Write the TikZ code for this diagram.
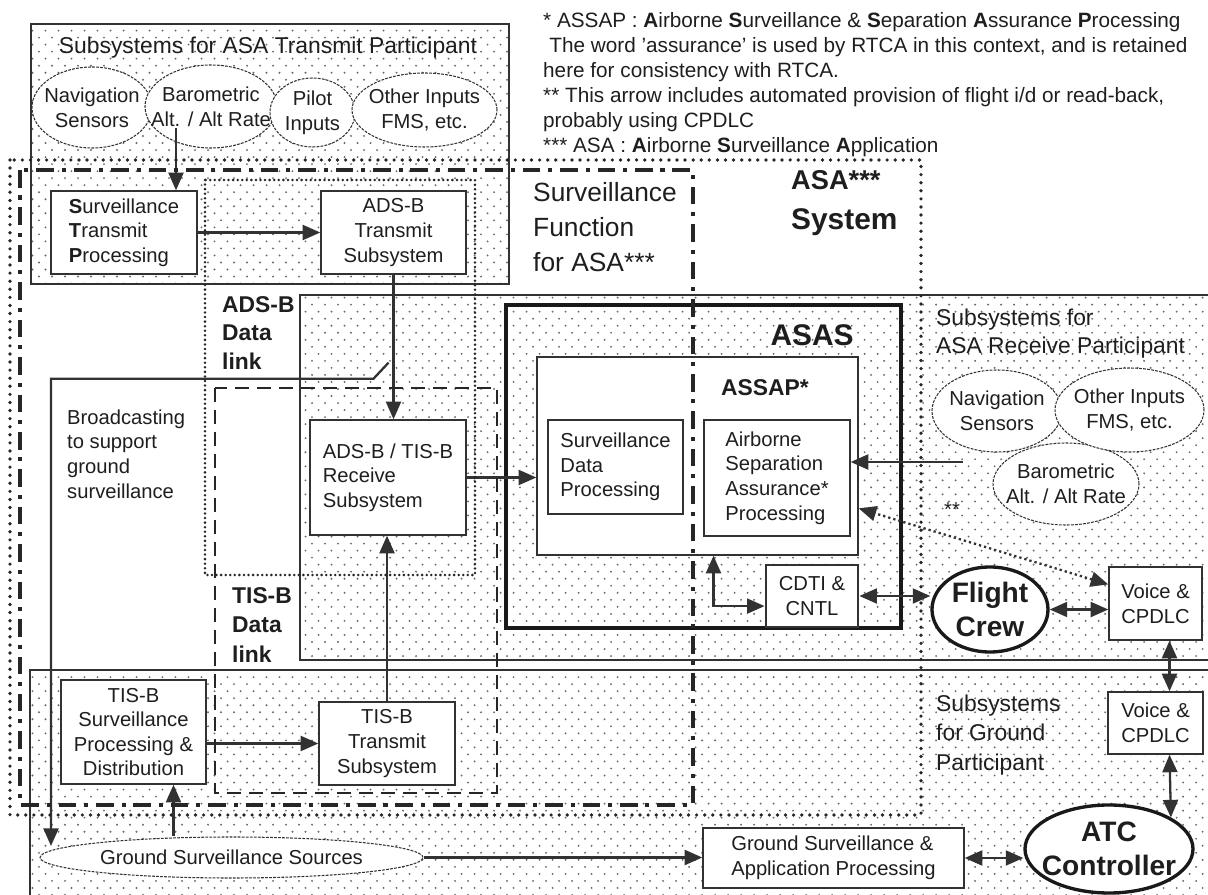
\documentclass[tikz,border=0pt]{standalone}
\usepackage{fontspec}
\setmainfont{Liberation Sans}
\usetikzlibrary{positioning, arrows.meta, calc, shapes.geometric, patterns}
\definecolor{asaline}{RGB}{50,50,50}
\definecolor{asadot}{RGB}{105,105,105}
\definecolor{asatext}{RGB}{30,30,30}
\pgfdeclarepatternformonly{asadots}{\pgfqpoint{-1pt}{-1pt}}{\pgfqpoint{5pt}{5pt}}{\pgfqpoint{7.4pt}{8pt}}{%
  \pgfpathcircle{\pgfqpoint{0pt}{0pt}}{0.6pt}%
  \pgfpathcircle{\pgfqpoint{3.7pt}{4pt}}{0.6pt}%
  \pgfusepath{fill}}
\newcommand{\asasize}[2]{\fontsize{#1}{#2}\selectfont}

\begin{document}
\begin{tikzpicture}[x=0.02cm, y=-0.02cm,
    every node/.style={font=\asasize{11.5}{14}, text=asatext},
    sz/.style 2 args={minimum width=#1*0.02cm, minimum height=#2*0.02cm},
    region/.style={pattern=asadots, pattern color=asadot},
    rim/.style={draw=asaline, line width=1pt},
    box/.style={draw=asaline, fill=white, line width=0.8pt, inner sep=0pt},
    oval/.style={ellipse, draw=asaline, fill=white, line width=0.6pt, dash pattern=on 1.6pt off 0.7pt, inner sep=0pt},
    bigoval/.style={ellipse, draw=black!90, fill=white, line width=1.9pt, inner sep=0pt},
    bigtxt/.style={align=center, font=\bfseries\asasize{16}{19}},
    arr/.style={-{Triangle[length=10pt,width=8.5pt]}, line width=1.3pt, draw=asaline},
    dbl/.style={{Triangle[length=10pt,width=8.5pt]}-{Triangle[length=10pt,width=8.5pt]}, line width=1.3pt, draw=asaline},
    dotarr/.style={dbl, dash pattern=on 1.3pt off 1.7pt},
    asasys/.style={draw=black!85, line width=2.1pt, line cap=round, dash pattern=on 0pt off 4.6pt},
    survfn/.style={draw=black!85, line width=2.3pt, dash pattern=on 10pt off 4.5pt on 2.3pt off 4.5pt},
    adsbline/.style={draw=black!85, line width=1.6pt, line cap=round, dash pattern=on 0pt off 2.6pt},
    tisbline/.style={draw=black!85, line width=1.5pt, dash pattern=on 8pt off 4.5pt},
    headbold/.style={font=\bfseries\asasize{13}{16}, align=left, anchor=west},
    grouptitle/.style={font=\asasize{13}{16}, align=left, anchor=west}]
  \useasboundingbox (0,0) rectangle (1208,895);

  \fill[region] (31,24) rectangle (509,284);
  \draw[rim] (31,24) rectangle (509,284);
  \fill[region] (300,295) rectangle (1208,660);
  \draw[rim] (1208,295) -- (300,295) -- (300,660) -- (1208,660);
  \fill[region] (30,670) rectangle (1208,895);
  \draw[rim] (30,895) -- (30,670) -- (1208,670);

  \node[oval, sz={120}{81}] (tnav) at (92,107.5) {};
  \node[oval, sz={132}{83}] (tbaro) at (211,106.5) {};
  \node[oval, sz={85}{69}] (tpilot) at (312.5,112.5) {};
  \node[oval, sz={145}{74}] (tother) at (424.5,110) {};
  \node[align=center] (tnavtxt) at (tnav) {Navigation\\Sensors};
  \node[align=center] (tbarotxt) at (tbaro) {Barometric\\Alt. / Alt Rate};
  \node[align=center] (tpilottxt) at (tpilot) {Pilot\\Inputs};
  \node[align=center] (tothertxt) at (tother) {Other Inputs\\FMS, etc.};

  \node[oval, sz={146}{82}] (rbaro) at (1066,484) {};
  \node[oval, sz={130}{82}] (rnav) at (997,411) {};
  \node[oval, sz={149}{84}] (rother) at (1129.5,410) {};
  \node[align=center] (rnavtxt) at (rnav) {Navigation\\Sensors};
  \node[align=center] (rothertxt) at (rother) {Other Inputs\\FMS, etc.};
  \node[align=center] (rbarotxt) at (rbaro) {Barometric\\Alt. / Alt Rate};

  \node[box, sz={146}{83}, align=left] (stp) at (124,232.5) {\textbf{S}urveillance\\\textbf{T}ransmit\\\textbf{P}rocessing};
  \node[box, sz={145}{83}, align=center] (adstx) at (393.5,232.5) {ADS-B\\Transmit\\Subsystem};
  \node[box, sz={156}{115}, align=left] (rx) at (388,477.5) {ADS-B / TIS-B\\Receive\\Subsystem};
  \node[draw=black!90, line width=2.3pt, inner sep=0pt, sz={395}{323}] (asas) at (703.5,466.5) {};
  \node[box, sz={321}{198}] (assap) at (697.5,456) {};
  \node[box, sz={135}{94}, align=left] (sdp) at (615.5,467) {Surveillance\\Data\\Processing};
  \node[box, sz={146}{116}, align=left] (asaproc) at (777,478) {Airborne\\Separation\\Assurance*\\Processing};
  \node[box, line width=1.6pt, sz={92}{62}, align=center] (cdti) at (812,596) {CDTI \&\\CNTL};
  \node[bigoval, sz={116}{85}] (crew) at (990,609.5) {};
  \node[bigtxt] (crewtxt) at (crew) {Flight\\Crew};
  \node[box, sz={93}{73}, align=center] (voice1) at (1155.5,603.5) {Voice \&\\CPDLC};
  \node[box, sz={95}{62}, align=center] (voice2) at (1155.5,723) {Voice \&\\CPDLC};
  \node[bigoval, sz={168}{88}] (atc) at (1109,849) {};
  \node[bigtxt] (atctxt) at (atc) {ATC\\Controller};
  \node[box, sz={261}{60}, align=left] (gsap) at (833.5,858) {Ground Surveillance \&\\Application Processing};
  \node[box, sz={145}{104}, align=center] (tisbspd) at (133.5,732) {TIS-B\\Surveillance\\Processing \&\\Distribution};
  \node[box, sz={136}{83}, align=center] (tisbtx) at (387,743.5) {TIS-B\\Transmit\\Subsystem};
  \node[oval, sz={383}{41}] (gss) at (231.5,857.5) {};
  \node (gsstxt) at (gss) {Ground Surveillance Sources};

  \coordinate (tbaroout) at (176,128);
  \coordinate (rcvin) at (963,462);
  \coordinate (gssin) at (51,846);
  \coordinate (tap) at ($(adstx.south)+(-5,88)$);
  \coordinate (spdin) at ($(tisbspd.south)+(40,0)$);
  \coordinate (v1s) at ($(voice1.south)+(14,0)$);
  \coordinate (v2s) at ($(voice2.south)+(14,0)$);

  \draw[arr] (tbaroout) -- (tbaroout |- stp.north);
  \draw[arr] (stp.east) -- (adstx.west);
  \draw[arr] (adstx.south) -- (adstx.south |- rx.north);
  \draw[arr] (tisbtx.north) -- (tisbtx.north |- rx.south);
  \draw[arr] (rx.east) -- (rx.east -| assap.west);
  \draw[arr] (tap) -- ++(-15,16) -| (gssin);
  \draw[arr] (tisbspd.east |- tisbtx.west) -- (tisbtx.west);
  \draw[arr] (spdin |- gss.north) -- (spdin);
  \draw[arr] (gss.east) -- (gss.east -| gsap.west);
  \draw[dbl] (gsap.east) -- (gsap.east -| atc.west);
  \draw[arr] (rcvin) -- (rcvin -| asaproc.east);
  \draw[dotarr] (voice1.158) -- (assap.-18);
  \draw[dbl] (cdti.192) -| ($(assap.south)+(16,0)$);
  \draw[dbl] (cdti.east) -- (cdti.east -| crew.west);
  \draw[dbl] (crew.east) -- (crew.east -| voice1.west);
  \draw[dbl] (v1s) -- (v1s |- voice2.north);
  \draw[dbl] (v2s) -- (atc.27);

  \draw[asasys] (10,160) rectangle (921,815);
  \draw[survfn] (20,170) rectangle (693,805);
  \draw[adsbline] (205,180) rectangle (475,575);
  \draw[tisbline] (215,388) rectangle (497,793);

  \node[font=\asasize{13}{16}] (txtitle) at (268,48) {Subsystems for ASA Transmit Participant};
  \node[align=left, anchor=west, font=\asasize{11.8}{14.2}] (notes) at (537,85)
    {* ASSAP : \textbf{A}irborne \textbf{S}urveillance \& \textbf{S}eparation \textbf{A}ssurance \textbf{P}rocessing\\
     \hspace{0.3em}The word 'assurance' is used by RTCA in this context, and is retained\\
     here for consistency with RTCA.\\
     ** This arrow includes automated provision of flight i/d or read-back,\\
     probably using CPDLC\\
     *** ASA : \textbf{A}irborne \textbf{S}urveillance \textbf{A}pplication};
  \node[align=left, anchor=west, font=\asasize{15}{20}] (survtxt) at (527,227) {Surveillance\\Function\\for ASA***};
  \node[anchor=west, font=\bfseries\asasize{15.5}{18}] (asatxt) at (785,180) {ASA***};
  \node[anchor=west, font=\bfseries\asasize{17}{20}] (systxt) at (785,222) {System};
  \node[headbold] (adsbtxt) at (216,333) {ADS-B\\Data\\link};
  \node[headbold, font=\bfseries\asasize{13}{17}] (tisbtxt) at (226,625) {TIS-B\\Data\\link};
  \node[align=left, anchor=west] (bcasttxt) at (61,454) {Broadcasting\\to support\\ground\\surveillance};
  \node[font=\bfseries\asasize{17}{20}] (asastxt) at (812,335) {ASAS};
  \node[anchor=west, font=\bfseries\asasize{13}{16}] (assaptxt) at (715,388) {ASSAP*};
  \node[grouptitle] (rcvtxt) at (930,334) {Subsystems for\\ASA Receive Participant};
  \node[grouptitle, font=\asasize{13}{17}] (gndtxt) at (930,735) {Subsystems\\for Ground\\Participant};
  \node (startxt) at (952,510) {**};
\end{tikzpicture}
\end{document}
